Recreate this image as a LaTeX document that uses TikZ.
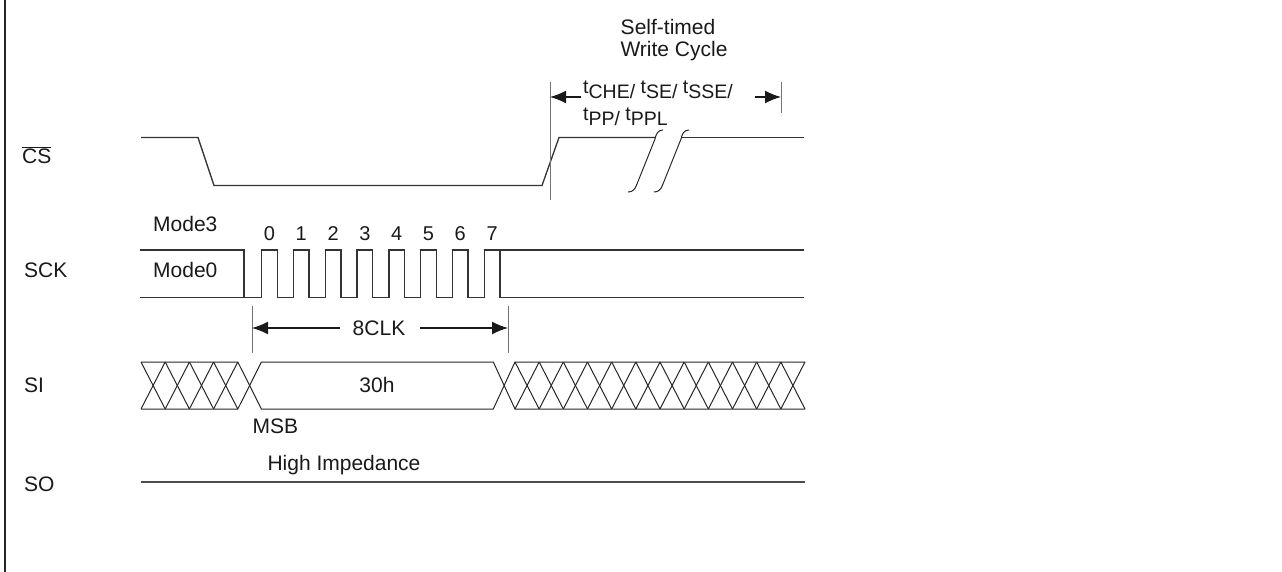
\documentclass[tikz,border=0pt]{standalone}
\usepackage{fontspec}
\setmainfont{Liberation Sans}
\usetikzlibrary{arrows.meta}
\newcommand{\rt}{\raisebox{5pt}{t}}
\begin{document}
\begin{tikzpicture}[x=1pt,y=-1pt,
  sig/.style={line width=1.3pt,draw=black!80},
  thin/.style={line width=1pt,draw=black!85},
  dim/.style={line width=1pt,draw=black!55},
  arr/.style={line width=1.4pt,draw=black!90,-{Latex[length=16pt,width=13pt]}},
  lab/.style={font=\fontsize{21}{25}\selectfont,inner sep=0pt,text=black!90},
  tlab/.style={font=\fontsize{21}{24}\selectfont,inner sep=0pt,text=black!90},
  tsub/.style={font=\fontsize{19.5}{23}\selectfont,inner sep=0pt,text=black!90},
  dig/.style={font=\fontsize{20}{24}\selectfont,inner sep=0pt,text=black!90}]
\useasboundingbox (0,0) rectangle (1282,572);
\coordinate (bt) at (5,0);
\coordinate (bb) at (5,572);
\draw[line width=1.6pt,black!85] (bt) -- (bb);

% signal names
\node[lab,anchor=west] (lcs) at (22,155) {$\overline{\mbox{CS}}$};
\node[lab,anchor=west] (lsck) at (24,270) {SCK};
\node[lab,anchor=west] (lsi) at (24,385) {SI};
\node[lab,anchor=west] (lso) at (24,484) {SO};

% CS
\coordinate (cs0) at (141,137.5);
\coordinate (cs1) at (198,137.5);
\coordinate (cs2) at (214,185.5);
\coordinate (cs3) at (542,185.5);
\coordinate (cs4) at (559,137.5);
\coordinate (cs5) at (655,137.5);
\coordinate (cs6) at (682,137.5);
\coordinate (cs7) at (804,137.5);
\draw[sig] (cs0) -- (cs1) -- (cs2) -- (cs3) -- (cs4) -- (cs5);
\draw[sig] (cs6) -- (cs7);
% break marks
\coordinate (bkA1) at (663,130);
\coordinate (bkA2) at (628,192);
\coordinate (bkB1) at (689,130);
\coordinate (bkB2) at (654,192);
\draw[thin] (bkA1) .. controls (658,130) and (656,134) .. (655,139) -- (637,184) .. controls (635,190) and (632,192) .. (bkA2);
\draw[thin] (bkB1) .. controls (684,130) and (682,134) .. (681,139) -- (663,184) .. controls (661,190) and (658,192) .. (bkB2);

% timing dimension
\coordinate (dA1) at (550,82);
\coordinate (dA2) at (550,200);
\coordinate (dB1) at (781,82);
\coordinate (dB2) at (781,113);
\draw[dim] (dA1) -- (dA2);
\draw[dim] (dB1) -- (dB2);
\coordinate (aL0) at (581,97);
\coordinate (aL1) at (550,97);
\coordinate (aR0) at (755,97);
\coordinate (aR1) at (781,97);
\draw[arr] (aL0) -- (aL1);
\draw[arr] (aR0) -- (aR1);
\node[tsub,anchor=base west] (tl1) at (583,98.5)
  {\rt CHE/ \rt SE/ \rt SSE/};
\node[tsub,anchor=base west] (tl2) at (583,126)
  {\rt PP/ \rt PPL};
\node[tlab] (st1) at (668,27) {Self-timed};
\node[tlab] (st2) at (674,51) {Write Cycle};

% SCK
\node[lab,anchor=west] (m3) at (153,224) {Mode3};
\node[lab,anchor=west] (m0) at (153,270) {Mode0};
\coordinate (k0) at (140,250);
\coordinate (k1) at (244,250);
\coordinate (k2) at (244,297.7);
\coordinate (k3) at (140,297.7);
\coordinate (k4) at (804,297.7);
\coordinate (k5) at (499.9,250);
\coordinate (k6) at (804,250);
\draw[sig] (k0) -- (k1) -- (k2);
\draw[sig] (k3) \foreach \k in {0,...,7}{ -- ({261.7+31.8*\k},297.7) -- ++(0,-47.7) -- ++(15.6,0) -- ++(0,47.7) } -- (k4);
\draw[sig] (k5) -- (k6);
\foreach \k in {0,...,7}{
  \node[dig] (d\k) at ({269.5+31.8*\k},234) {\k};
}

% 8CLK
\coordinate (c1t) at (252,306);
\coordinate (c1b) at (252,353);
\coordinate (c2t) at (508,306);
\coordinate (c2b) at (508,353);
\draw[dim] (c1t) -- (c1b);
\draw[dim] (c2t) -- (c2b);
\node[lab] (clk) at (379,328) {8CLK};
\coordinate (cl0) at (340,328);
\coordinate (cl1) at (252,328);
\coordinate (cr0) at (420,328);
\coordinate (cr1) at (508,328);
\draw[arr] (cl0) -- (cl1);
\draw[arr] (cr0) -- (cr1);

% SI
\def\T{362}\def\B{409}
\foreach \i in {0,...,3}{
  \draw[thin] ({141+24.2*\i},\T) -- ({141+24.2*(\i+1)},\B);
  \draw[thin] ({141+24.2*\i},\B) -- ({141+24.2*(\i+1)},\T);
}
\coordinate (s0t) at (141,\T);
\coordinate (s0b) at (141,\B);
\coordinate (s1t) at (237.8,\T);
\coordinate (s1b) at (237.8,\B);
\coordinate (s2t) at (261.4,\T);
\coordinate (s2b) at (261.4,\B);
\coordinate (s3t) at (493.3,\T);
\coordinate (s3b) at (493.3,\B);
\coordinate (s4t) at (515,\T);
\coordinate (s4b) at (515,\B);
\coordinate (s5t) at (805,\T);
\coordinate (s5b) at (805,\B);
\draw[thin] (s0t) -- (s1t) -- (s2b) -- (s3b) -- (s4t) -- (s5t);
\draw[thin] (s0b) -- (s1b) -- (s2t) -- (s3t) -- (s4b) -- (s5b);
\foreach \i in {0,...,11}{
  \draw[thin] ({515+24.1667*\i},\T) -- ({515+24.1667*(\i+1)},\B);
  \draw[thin] ({515+24.1667*\i},\B) -- ({515+24.1667*(\i+1)},\T);
}
\node[lab] (h30) at (377,385) {30h};
\node[lab,anchor=west] (msb) at (252.5,426) {MSB};

% SO
\coordinate (so0) at (141,482);
\coordinate (so1) at (805,482);
\draw[line width=1.6pt,black!70] (so0) -- (so1);
\node[lab] (hi) at (344,465) {High Impedance};
\end{tikzpicture}
\end{document}
